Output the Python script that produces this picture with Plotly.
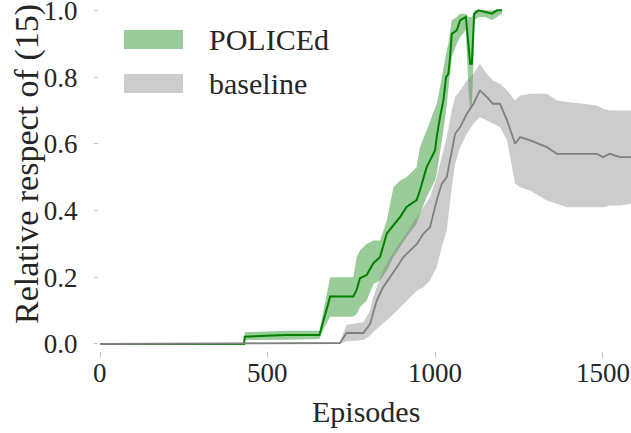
import plotly.graph_objects as go

# ---- data ----
pol_x = [0, 430, 432, 555, 655, 670, 687, 756, 766, 776, 796, 816, 836, 856, 876, 896, 915, 945, 955, 975,
         1000, 1005, 1015, 1025, 1033, 1040, 1045, 1050, 1065, 1075, 1092, 1100, 1105, 1110, 1115, 1117,
         1130, 1150, 1170, 1185, 1200]
pol_mean = [0, 0, 0.022, 0.027, 0.027, 0.08, 0.142, 0.142, 0.162, 0.197, 0.207, 0.242, 0.261, 0.331, 0.356,
            0.381, 0.411, 0.431, 0.46, 0.53, 0.58, 0.62, 0.68, 0.73, 0.80, 0.81, 0.86, 0.93, 0.94, 0.97,
            0.98, 0.90, 0.84, 0.84, 0.93, 0.99, 1.0, 0.995, 0.99, 1.0, 1.0]
pol_hi = [0.003, 0.003, 0.035, 0.04, 0.04, 0.12, 0.20, 0.20, 0.26, 0.28, 0.30, 0.31, 0.31, 0.37, 0.47,
          0.49, 0.50, 0.53, 0.59, 0.64, 0.71, 0.72, 0.77, 0.83, 0.87, 0.90, 0.93, 0.97, 0.98, 0.99,
          0.99, 0.98, 0.98, 0.98, 0.99, 1.0, 1.0, 1.0, 1.0, 1.0, 1.0]
pol_lo = [0, 0, 0.012, 0.013, 0.015, 0.05, 0.082, 0.082, 0.09, 0.11, 0.13, 0.18, 0.19, 0.22, 0.26,
          0.29, 0.32, 0.36, 0.39, 0.44, 0.49, 0.51, 0.57, 0.64, 0.70, 0.76, 0.81, 0.86, 0.90, 0.92,
          0.94, 0.76, 0.70, 0.72, 0.85, 0.97, 0.98, 0.98, 0.97, 0.98, 0.99]

base_x = [0, 716, 736, 786, 806, 815, 826, 845, 866, 886, 905, 925, 946, 965, 985, 1005, 1020, 1035, 1050,
          1060, 1075, 1095, 1115, 1134, 1155, 1173, 1194, 1215, 1239, 1254, 1284, 1334, 1364, 1394, 1442,
          1483, 1502, 1522, 1552, 1585]
base_mean = [0, 0.003, 0.033, 0.033, 0.06, 0.09, 0.13, 0.17, 0.20, 0.23, 0.26, 0.28, 0.30, 0.33, 0.35,
             0.43, 0.48, 0.50, 0.58, 0.63, 0.65, 0.69, 0.72, 0.76, 0.74, 0.72, 0.72, 0.67, 0.60, 0.62,
             0.61, 0.59, 0.57, 0.57, 0.57, 0.57, 0.56, 0.57, 0.56, 0.56]
base_hi = [0.003, 0.005, 0.058, 0.065, 0.10, 0.14, 0.17, 0.22, 0.26, 0.29, 0.32, 0.35, 0.38, 0.41, 0.44,
           0.50, 0.56, 0.62, 0.70, 0.74, 0.76, 0.79, 0.81, 0.84, 0.81, 0.79, 0.78, 0.76, 0.73, 0.745,
           0.75, 0.75, 0.73, 0.725, 0.72, 0.715, 0.705, 0.70, 0.70, 0.70]
base_lo = [0, 0, 0.008, 0.012, 0.025, 0.035, 0.045, 0.06, 0.08, 0.10, 0.12, 0.14, 0.16, 0.17, 0.19,
           0.23, 0.29, 0.34, 0.47, 0.54, 0.59, 0.63, 0.66, 0.68, 0.67, 0.66, 0.65, 0.61, 0.48, 0.47,
           0.46, 0.43, 0.42, 0.41, 0.41, 0.41, 0.41, 0.415, 0.415, 0.42]

x_ticks = [0, 500, 1000, 1500]
y_ticks = [0.0, 0.2, 0.4, 0.6, 0.8, 1.0]
labels = ["POLICEd", "baseline"]

GREEN = "#008000"
GREY = "#808080"
GREEN_FILL = "rgba(0,128,0,0.4)"
GREY_FILL = "rgba(128,128,128,0.4)"
FONT = "Liberation Serif"
TXT = "#262626"

fig = go.Figure()
fig.add_trace(go.Scatter(x=pol_x + pol_x[::-1], y=pol_hi + pol_lo[::-1], fill="toself",
                         fillcolor=GREEN_FILL, line=dict(width=0), mode="lines",
                         hoverinfo="skip", showlegend=False))
fig.add_trace(go.Scatter(x=pol_x, y=pol_mean, mode="lines", line=dict(color=GREEN, width=2),
                         showlegend=False))
fig.add_trace(go.Scatter(x=base_x + base_x[::-1], y=base_hi + base_lo[::-1], fill="toself",
                         fillcolor=GREY_FILL, line=dict(width=0), mode="lines",
                         hoverinfo="skip", showlegend=False))
fig.add_trace(go.Scatter(x=base_x, y=base_mean, mode="lines", line=dict(color=GREY, width=1.8),
                         showlegend=False))

# plot-area geometry in pixels
L, R, T, B = 99, 0, 7, 82
W, H = 631, 433
pw, ph = W - L - R, H - T - B


def px2x(px):
    return (px - L) / pw


def py2y(py):
    return (H - B - py) / ph


# manual legend
for (y0, y1), col, lab in zip([(30, 49), (74, 93)], [GREEN_FILL, GREY_FILL], labels):
    fig.add_shape(type="rect", xref="paper", yref="paper", x0=px2x(124), x1=px2x(183),
                  y0=py2y(y1), y1=py2y(y0), fillcolor=col, line=dict(width=0))
    fig.add_annotation(xref="paper", yref="paper", x=px2x(207), y=py2y((y0 + y1) / 2),
                       xanchor="left", yanchor="middle", text=lab, showarrow=False,
                       font=dict(family=FONT, size=30, color=TXT))

# x tick labels and x title as text placed under the axis
for t in x_ticks:
    fig.add_annotation(xref="x", yref="paper", x=t, y=py2y(373), xanchor="center", yanchor="middle",
                       text=str(t), showarrow=False, font=dict(family=FONT, size=27, color=TXT))
fig.add_annotation(xref="paper", yref="paper", x=px2x(366), y=py2y(411), xanchor="center",
                   yanchor="middle", text="Episodes", showarrow=False,
                   font=dict(family=FONT, size=30, color=TXT))

# y-axis title
fig.add_annotation(xref="paper", yref="paper", x=px2x(27), y=py2y(164), xanchor="center",
                   yanchor="middle", textangle=-90, text="Relative respect of (15)", showarrow=False,
                   font=dict(family=FONT, size=34, color=TXT))

fig.update_layout(
    width=W, height=H, margin=dict(l=L, r=R, t=T, b=B, autoexpand=False),
    paper_bgcolor="white", plot_bgcolor="white",
    font=dict(family=FONT, size=27, color=TXT),
    xaxis=dict(range=[-3, 1585], tickvals=x_ticks, ticks="outside", ticklen=6, tickwidth=1,
               tickcolor="#c0c0c0", showline=False, showgrid=False, zeroline=False,
               showticklabels=False, automargin=False),
    yaxis=dict(range=[-0.021, 1.01], tickvals=y_ticks, tickformat=".1f", ticks="outside", ticklen=4,
               tickwidth=1, tickcolor="#c0c0c0", showline=False, showgrid=False, zeroline=False,
               ticklabelstandoff=11, ticklabeloverflow="allow", automargin=False,
               tickfont=dict(family=FONT, size=27, color=TXT)),
)

fig.write_html("out.html", config={"displayModeBar": False},
               post_script="document.body.style.margin='0';document.body.style.overflow='hidden';")
